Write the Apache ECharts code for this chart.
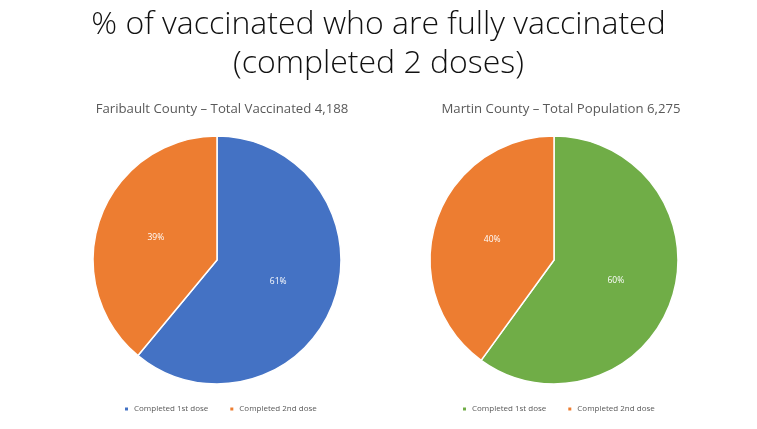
<!DOCTYPE html>
<html lang="en">
<head>
    <meta charset="UTF-8">
    <title>Fully vaccinated</title>
    <style>
        *{
            margin: 0;
            padding: 0;
        }
        html, body{
            height: 100%;
            width: 100%;
            background: #fff;
        }
        #chart{
            width: 757px;
            height: 429px;
        }
    </style>
</head>
<body>
<div id="chart"></div>
<script src="https://cdn.jsdelivr.net/npm/echarts@6/dist/echarts.min.js"></script>
<script>
    var categories = ['Completed 1st dose', 'Completed 2nd dose'];
    var faribaultValues = [61, 39];
    var martinValues = [60, 40];
    var faribaultColors = ['#4472C4', '#ED7D31'];
    var martinColors = ['#70AD47', '#ED7D31'];
    var faribaultTitle = 'Faribault County \u2013 Total Vaccinated 4,188';
    var martinTitle = 'Martin County \u2013 Total Population 6,275';

    var chart = echarts.init(document.getElementById('chart'));

    function toData(values, colors) {
        var data = [];
        for (var i = 0; i < values.length; i++) {
            data.push({name: categories[i], value: values[i], itemStyle: {color: colors[i]}});
        }
        return data;
    }

    function legendData(colors) {
        var data = [];
        for (var i = 0; i < categories.length; i++) {
            data.push({name: categories[i], itemStyle: {color: colors[i]}});
        }
        return data;
    }

    function pieSeries(center, values, colors) {
        return {
            type: 'pie',
            center: center,
            radius: [0, 124],
            startAngle: 90,
            clockwise: true,
            itemStyle: {borderColor: '#fff', borderWidth: 1.5},
            label: {
                show: true,
                position: 'inside',
                formatter: '{c}%',
                color: '#fff',
                fontSize: 8.5,
                fontFamily: 'Open Sans'
            },
            labelLine: {show: false},
            emphasis: {disabled: true},
            data: toData(values, colors)
        };
    }

    var subStyle = {color: '#595959', fontSize: 13.2, fontWeight: 'normal', fontFamily: 'Open Sans'};
    var legendText = {color: '#595959', fontSize: 8, fontFamily: 'Open Sans'};

    function legend(left, colors) {
        return {
            data: legendData(colors),
            left: left,
            top: 400,
            itemWidth: 5,
            itemHeight: 5,
            itemGap: 20,
            icon: 'rect',
            textStyle: legendText,
            selectedMode: false
        };
    }

    var option = {
        backgroundColor: '#fff',
        animation: false,
        title: [{
            text: '% of vaccinated who are fully vaccinated\n(completed 2 doses)',
            left: 'center',
            top: 0,
            textStyle: {
                color: '#111',
                fontSize: 32,
                fontWeight: 300,
                fontFamily: 'Open Sans',
                lineHeight: 39
            }
        }, {
            text: faribaultTitle,
            left: 217,
            textAlign: 'center',
            top: 98,
            textStyle: subStyle
        }, {
            text: martinTitle,
            left: 556,
            textAlign: 'center',
            top: 98,
            textStyle: subStyle
        }],
        legend: [legend(118, faribaultColors), legend(456, martinColors)],
        series: [
            pieSeries([217, 260], faribaultValues, faribaultColors),
            pieSeries([554, 260], martinValues, martinColors)
        ]
    };
    chart.setOption(option);
</script>
</body>
</html>
